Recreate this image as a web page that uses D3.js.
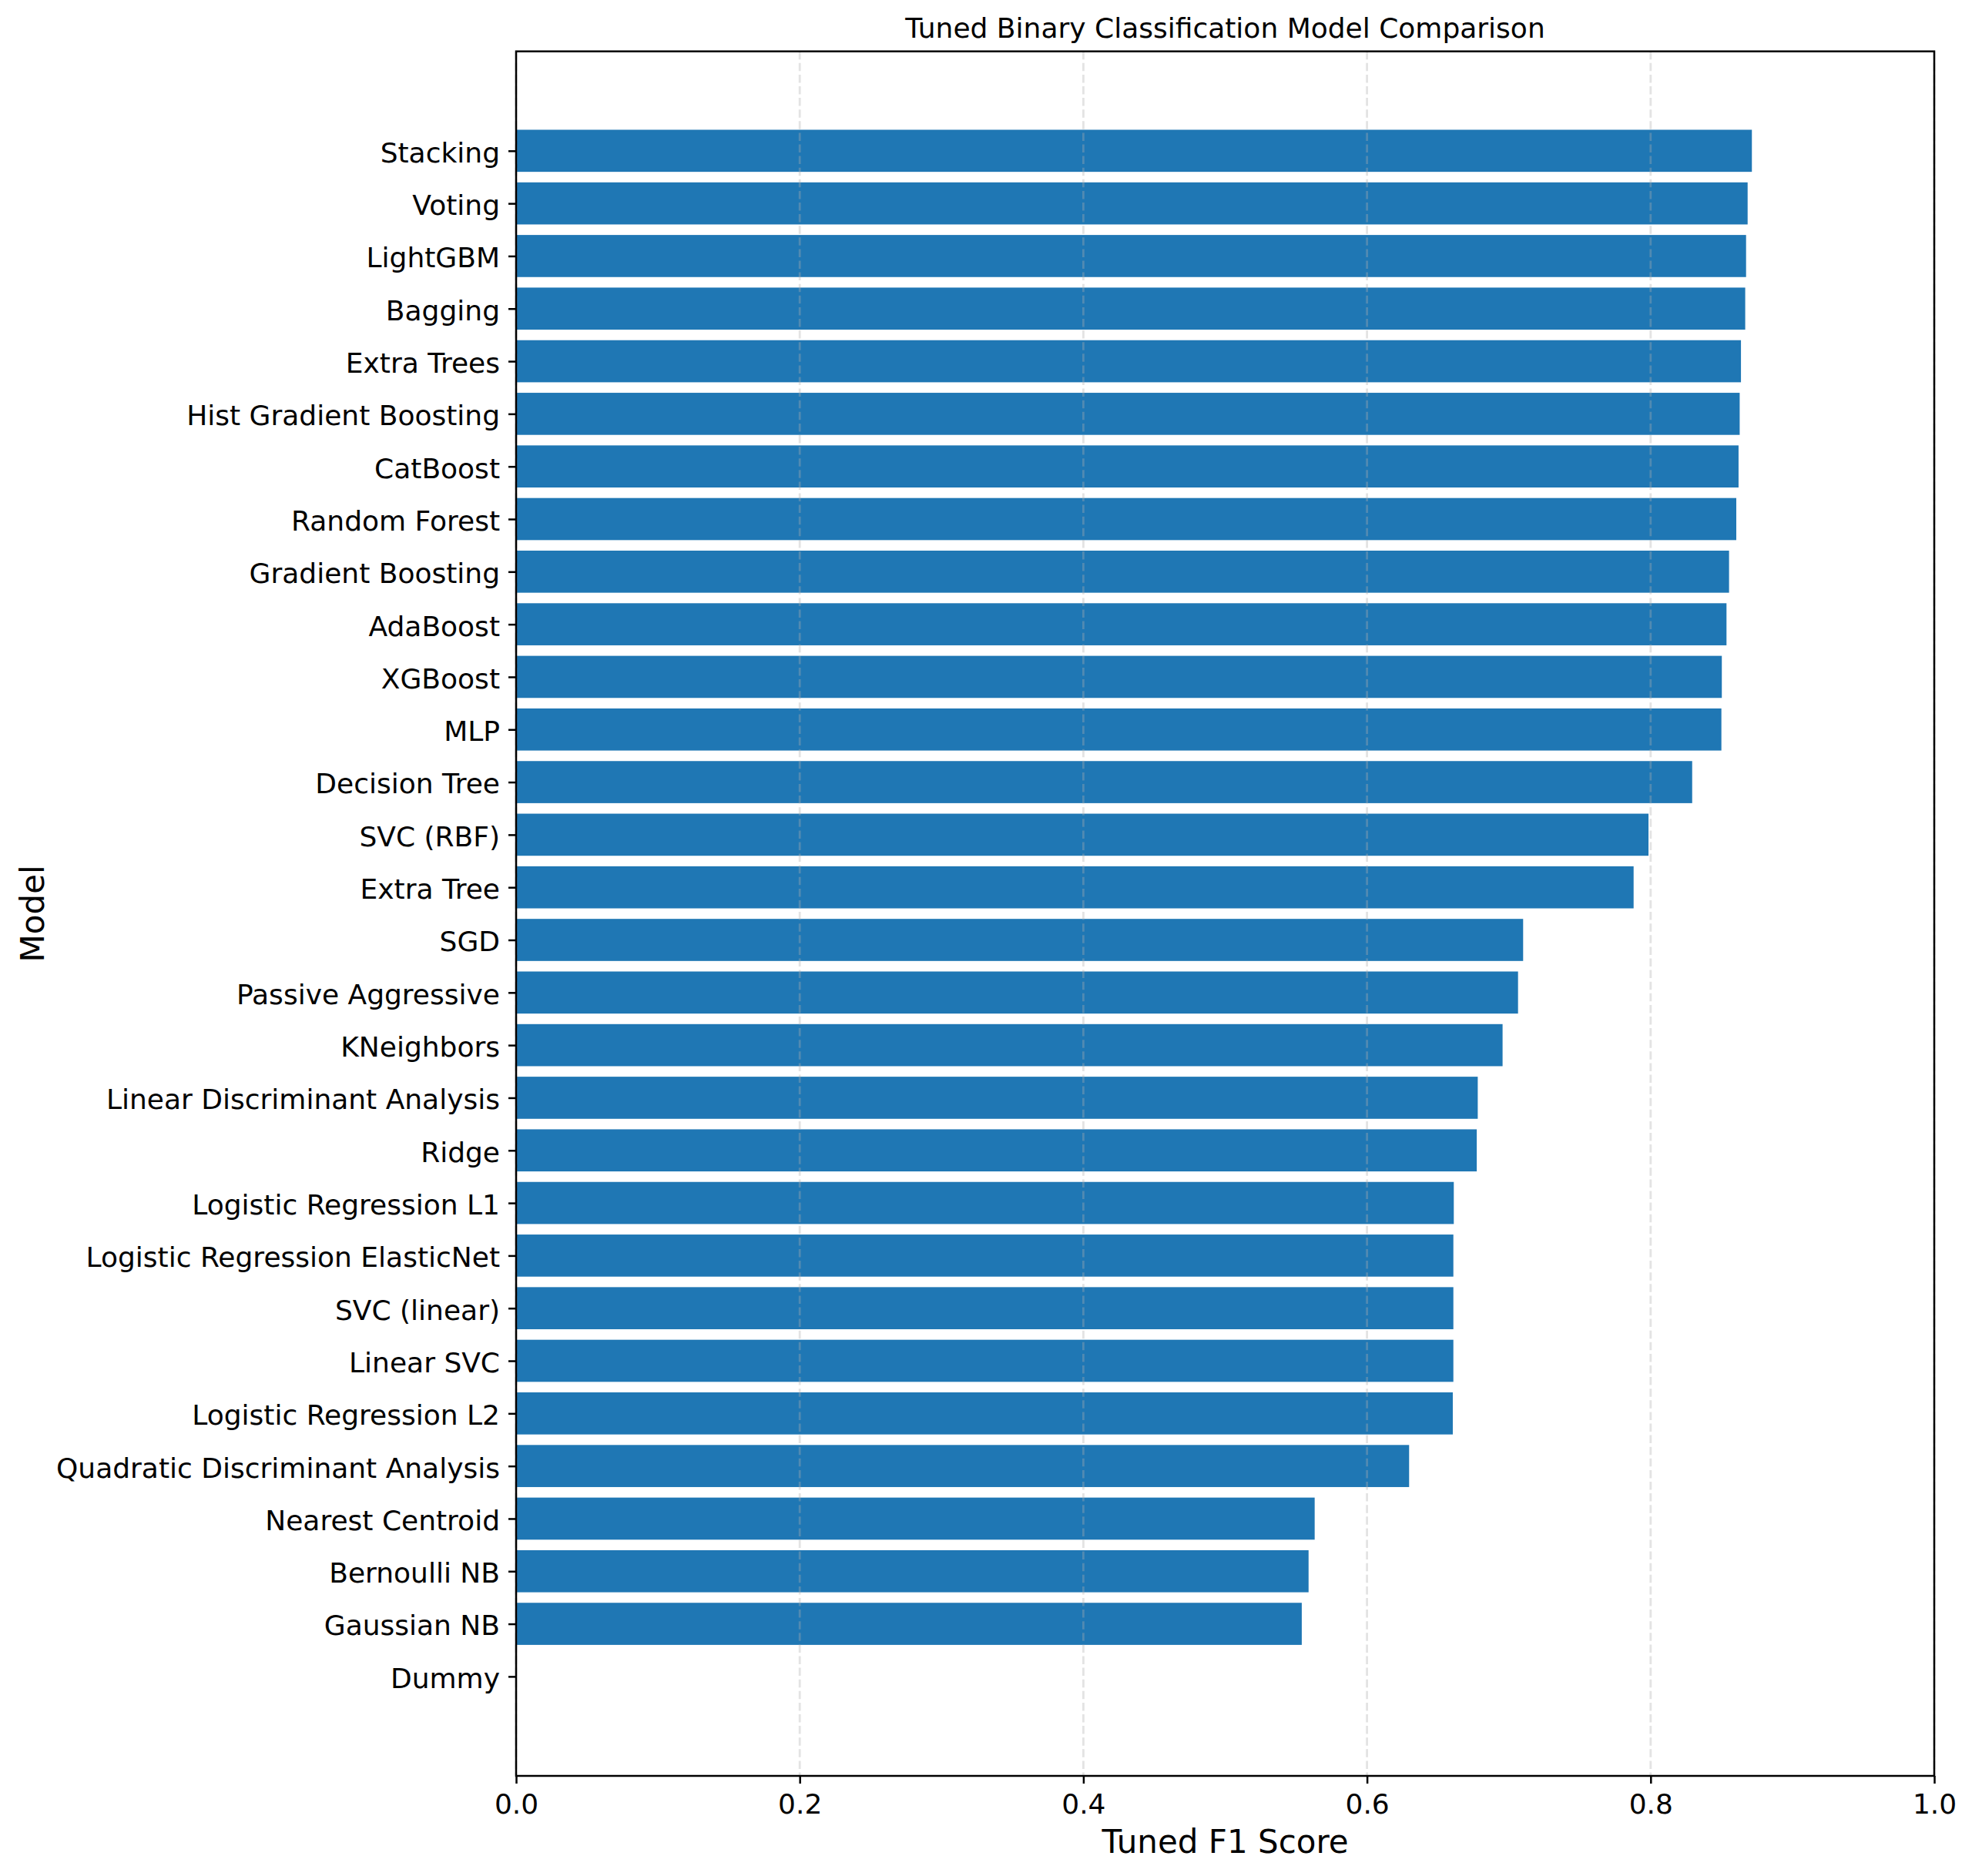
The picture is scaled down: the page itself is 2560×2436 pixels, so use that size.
<!DOCTYPE html>
<html>
<head>
<meta charset="utf-8">
<script src="https://cdn.jsdelivr.net/npm/d3@7"></script>
<style>
  html, body { margin: 0; padding: 0; background: #fff; }
  svg { display: block; font-family: 'DejaVu Sans', sans-serif; }
</style>
</head>
<body>
<div id="chart"></div>
<script>
// model names, top to bottom
var models = [
  'Stacking', 'Voting', 'LightGBM', 'Bagging', 'Extra Trees',
  'Hist Gradient Boosting', 'CatBoost', 'Random Forest', 'Gradient Boosting', 'AdaBoost',
  'XGBoost', 'MLP', 'Decision Tree', 'SVC (RBF)', 'Extra Tree',
  'SGD', 'Passive Aggressive', 'KNeighbors', 'Linear Discriminant Analysis', 'Ridge',
  'Logistic Regression L1', 'Logistic Regression ElasticNet', 'SVC (linear)', 'Linear SVC', 'Logistic Regression L2',
  'Quadratic Discriminant Analysis', 'Nearest Centroid', 'Bernoulli NB', 'Gaussian NB', 'Dummy'
];
// tuned f1 scores, same order
var f1Scores = [
  0.8714, 0.8684, 0.8673, 0.8667, 0.8637,
  0.8628, 0.8620, 0.8604, 0.8553, 0.8535,
  0.8502, 0.8499, 0.8293, 0.7985, 0.7880,
  0.7101, 0.7065, 0.6956, 0.6781, 0.6774,
  0.6612, 0.6609, 0.6609, 0.6609, 0.6605,
  0.6297, 0.5631, 0.5588, 0.5540, 0
];
var xTicks = [0, 0.2, 0.4, 0.6, 0.8, 1.0];

var width = 2560;
var height = 2436;
var margin = { top: 66.7, right: 49, bottom: 130, left: 670 };
var plotW = width - margin.left - margin.right;
var plotH = height - margin.top - margin.bottom;
var barColor = '#1f77b4';
var tickLen = 10;

var svg = d3.select('#chart')
  .append('svg')
  .attr('width', width)
  .attr('height', height);

var g = svg.append('g')
  .attr('transform', 'translate(' + margin.left + ',' + margin.top + ')');

// scales (matplotlib style: bars 0.8 high, 5% padding on y)
var n = models.length;
var yPad = (n - 1 + 0.8) * 0.05;
var x = d3.scaleLinear().domain([0, 1]).range([0, plotW]);
var y = d3.scaleLinear()
  .domain([-0.4 - yPad, n - 1 + 0.4 + yPad])
  .range([0, plotH]);

// bars
g.selectAll('rect.bar')
  .data(f1Scores)
  .enter()
  .append('rect')
  .attr('class', 'bar')
  .attr('x', x(0))
  .attr('y', function (d, i) { return y(i - 0.4); })
  .attr('width', function (d) { return x(d) - x(0); })
  .attr('height', function (d, i) { return y(i + 0.4) - y(i - 0.4); })
  .attr('fill', barColor);

// vertical dashed grid, above the bars
g.selectAll('line.grid')
  .data(xTicks)
  .enter()
  .append('line')
  .attr('class', 'grid')
  .attr('x1', x).attr('x2', x)
  .attr('y1', 0).attr('y2', plotH)
  .attr('stroke', '#b0b0b0')
  .attr('stroke-opacity', 0.35)
  .attr('stroke-width', 2.8)
  .attr('stroke-dasharray', '10.5,4.6');

// x axis
var xAxis = d3.axisBottom(x)
  .tickValues(xTicks)
  .tickFormat(d3.format('.1f'))
  .tickSizeInner(tickLen)
  .tickSizeOuter(0)
  .tickPadding(12);
var gx = g.append('g')
  .attr('transform', 'translate(0,' + plotH + ')')
  .call(xAxis);
gx.select('.domain').remove();
gx.selectAll('line').attr('stroke', '#000').attr('stroke-width', 2.5);
gx.selectAll('text')
  .attr('font-size', 36)
  .attr('font-family', 'DejaVu Sans')
  .attr('fill', '#000')
  .attr('dy', null)
  .attr('y', tickLen + 12 + 26.7);

// y axis
var yAxis = d3.axisLeft(y)
  .tickValues(d3.range(n))
  .tickFormat(function (d) { return models[d]; })
  .tickSizeInner(tickLen)
  .tickSizeOuter(0)
  .tickPadding(11);
var gy = g.append('g').call(yAxis);
gy.select('.domain').remove();
gy.selectAll('line').attr('stroke', '#000').attr('stroke-width', 2.5);
gy.selectAll('text')
  .attr('font-size', 36)
  .attr('font-family', 'DejaVu Sans')
  .attr('fill', '#000')
  .attr('dy', '0.4em');

// frame
g.append('rect')
  .attr('x', 0).attr('y', 0)
  .attr('width', plotW).attr('height', plotH)
  .attr('fill', 'none')
  .attr('stroke', '#000')
  .attr('stroke-width', 2.5);

// title and axis labels
svg.append('text')
  .attr('x', margin.left + plotW / 2)
  .attr('y', 49.3)
  .attr('text-anchor', 'middle')
  .attr('font-size', 36)
  .text('Tuned Binary Classification Model Comparison');

svg.append('text')
  .attr('x', margin.left + plotW / 2)
  .attr('y', 2406)
  .attr('text-anchor', 'middle')
  .attr('font-size', 42)
  .text('Tuned F1 Score');

svg.append('text')
  .attr('transform', 'translate(57,' + (margin.top + plotH / 2) + ') rotate(-90)')
  .attr('text-anchor', 'middle')
  .attr('font-size', 42)
  .text('Model');
</script>
</body>
</html>
